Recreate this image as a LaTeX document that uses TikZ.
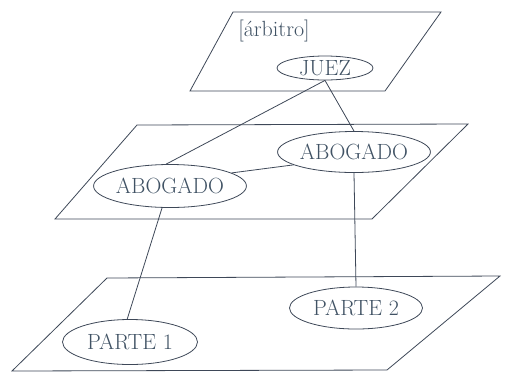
\documentclass[tikz,border=0pt]{standalone}
\usepackage{fontspec}
\usetikzlibrary{shapes.geometric}
\definecolor{ink}{RGB}{62,72,88}
\definecolor{txt}{RGB}{64,82,100}
\begin{document}
\begin{tikzpicture}[x=1pt,y=-1pt,
  plane/.style={draw=ink,line width=0.8pt,line join=miter},
  levelname/.style={text=txt,inner sep=0pt,font=\fontsize{22}{22}\selectfont},
  role/.style={ellipse,draw=ink,line width=0.8pt,inner sep=0pt,text=txt,
    font=\fontsize{22}{22}\selectfont},
  link/.style={draw=ink,line width=0.8pt}]
\useasboundingbox (0,0) rectangle (506,373);
% three levels
\draw[plane] (233,12) -- (441,12) -- (385,91) -- (190,91) -- cycle;
\draw[plane] (137,125) -- (468,124) -- (372,219) -- (55,219) -- cycle;
\draw[plane] (107,278) -- (500,276) -- (387,370) -- (12,371) -- cycle;
% level label and participants
\node[levelname] (arb) at (274,31) {[árbitro]};
\node[role,minimum width=96pt,minimum height=24pt] (juez) at (325,68) {JUEZ};
\node[role,minimum width=133pt,minimum height=41pt] (abR) at (354,152) {ABOGADO};
\node[role,minimum width=134pt,minimum height=43pt] (abL) at (170,186) {ABOGADO};
\node[role,minimum width=133pt,minimum height=42pt] (p2) at (356,308) {PARTE 2};
\node[role,minimum width=135pt,minimum height=45pt] (p1) at (130,342) {PARTE 1};
% connections
\draw[link] (juez.south) -- (abL.100);
\draw[link] (juez.south) -- (abR.north);
\draw[link] (abL.12) -- (abR.192);
\draw[link] (abL.250) -- (p1.97);
\draw[link] (abR.south) -- (p2.north);
\end{tikzpicture}
\end{document}
